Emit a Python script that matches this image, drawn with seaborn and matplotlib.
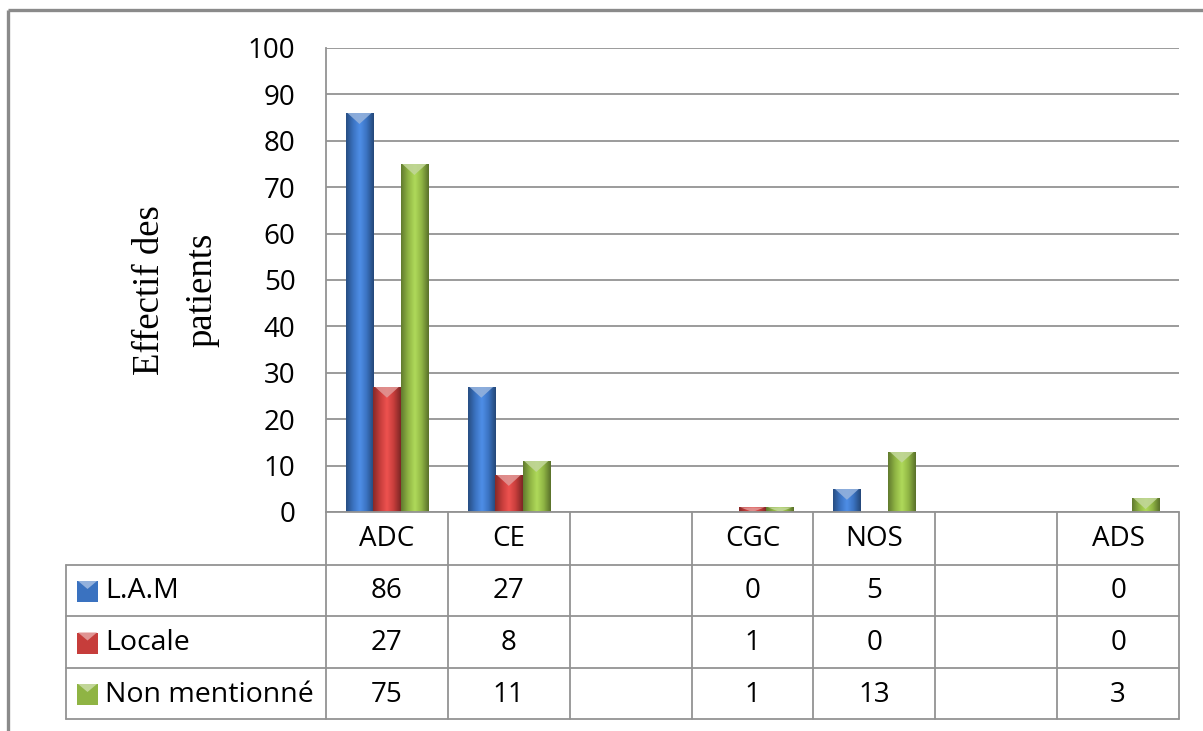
import numpy as np
import pandas as pd
import matplotlib
matplotlib.use("Agg")
import matplotlib.pyplot as plt
from matplotlib.colors import LinearSegmentedColormap, to_rgb
from matplotlib.patches import Rectangle, Polygon
import seaborn as sns

# ---- data -------------------------------------------------------------
categories = ["ADC", "CE", "", "CGC", "NOS", " ", "ADS"]
series = ["L.A.M", "Locale", "Non mentionné"]
lam = [86, 27, None, 0, 5, None, 0]
locale = [27, 8, None, 1, 0, None, 0]
non_mentionne = [75, 11, None, 1, 13, None, 3]
y_ticks = [0, 10, 20, 30, 40, 50, 60, 70, 80, 90, 100]
y_label = "Effectif des\npatients"

values = {"L.A.M": lam, "Locale": locale, "Non mentionné": non_mentionne}
colors = {"L.A.M": "#3a72c0", "Locale": "#c63d3b", "Non mentionné": "#8fb444"}

rows = []
for s in series:
    for c, v in zip(categories, values[s]):
        if v is not None:
            rows.append({"type": c, "serie": s, "n": v})
df = pd.DataFrame(rows)

# ---- figure -----------------------------------------------------------
W, H = 1203, 731
sns.set_theme(style="white")
plt.rcParams["font.family"] = ["Open Sans", "DejaVu Sans"]
fig = plt.figure(figsize=(W / 100, H / 100), dpi=100)
fig.patch.set_facecolor("white")

px = lambda x0, y0, x1, y1: [x0 / W, 1 - y1 / H, (x1 - x0) / W, (y1 - y0) / H]
ax = fig.add_axes(px(326, 48, 1179, 512))

sns.barplot(data=df, x="type", y="n", hue="serie", order=categories,
            hue_order=series, palette=colors, width=0.676, gap=0,
            saturation=1, ax=ax, legend=False, errorbar=None, zorder=3)

ax.set_xlim(-0.5, len(categories) - 0.5)
ax.set_ylim(0, 100)
ax.set_yticks(y_ticks)
ax.set_xticks([])
ax.set_xlabel("")
ax.set_ylabel("")
ax.tick_params(axis="y", length=0, pad=22, labelsize=20, labelcolor="black")
ax.yaxis.grid(True, color="#939393", lw=1.3, zorder=0)
ax.set_axisbelow(True)
for side in ["top", "right", "bottom"]:
    ax.spines[side].set_visible(False)
ax.spines["left"].set_color("#939393")
ax.spines["left"].set_linewidth(1.3)


def shade_cmap(hex_color):
    base = np.array(to_rgb(hex_color))
    dark = base * 0.68
    light = np.clip(base * 1.14 + 0.05, 0, 1)
    return LinearSegmentedColormap.from_list(
        "bar", [dark, base, light, base, dark * 0.92])


def light_tip(hex_color):
    base = np.array(to_rgb(hex_color))
    return tuple(np.clip(base + (1 - base) * 0.45, 0, 1))


grad = np.linspace(0, 1, 64).reshape(1, -1)
# y units per pixel in the main axes
y_per_px = 100 / (512 - 48)

bar_patches = [p for p in ax.patches if isinstance(p, Rectangle) and p.get_width() > 0]
for p in bar_patches:
    h = p.get_height()
    if h <= 0:
        continue
    x0, w = p.get_x(), p.get_width()
    fc = matplotlib.colors.to_hex(p.get_facecolor())
    im = ax.imshow(grad, extent=[x0, x0 + w, 0, h], aspect="auto",
                   cmap=shade_cmap(fc), zorder=4, interpolation="bicubic")
    im.set_clip_path(p)
    depth = min(11 * y_per_px, h)
    tri = Polygon([[x0 + w * 0.06, h], [x0 + w * 0.94, h], [x0 + w / 2, h - depth]],
                  closed=True, facecolor=light_tip(fc), edgecolor="none",
                  zorder=5, alpha=0.9)
    ax.add_patch(tri)
    tri.set_clip_path(p)
    p.set_edgecolor("none")

ax.set_xlim(-0.5, len(categories) - 0.5)
ax.set_ylim(0, 100)

# ---- overlay in pixel space: frame, axis title and data table ----------
ov = fig.add_axes([0, 0, 1, 1], zorder=5)
ov.set_xlim(0, W)
ov.set_ylim(H, 0)
ov.axis("off")
ov.patch.set_alpha(0)

frame_c = "#8a8a8a"
ov.plot([8, W], [10, 10], color=frame_c, lw=2.4, solid_capstyle="butt")
ov.plot([8, 8], [10, H], color=frame_c, lw=2.4, solid_capstyle="butt")

ov.text(176, 290, y_label, rotation=90, ha="center", va="center",
        family=["Liberation Serif", "DejaVu Serif"], fontsize=26.5,
        linespacing=1.65, color="black")

line_c = "#939393"
col_left, col_right = 326, 1179
label_left = 66
row_edges = [512, 565, 616, 668, 719]
ncol = len(categories)
col_w = (col_right - col_left) / ncol

# horizontal lines
ov.plot([col_left, col_right], [row_edges[0]] * 2, color=line_c, lw=1.3)
for yy in row_edges[1:]:
    ov.plot([label_left, col_right], [yy, yy], color=line_c, lw=1.3)
# vertical lines
for i in range(ncol + 1):
    xx = col_left + i * col_w
    ov.plot([xx, xx], [row_edges[0], row_edges[-1]], color=line_c, lw=1.3)
ov.plot([label_left, label_left], [row_edges[1], row_edges[-1]], color=line_c, lw=1.3)

fs = 20
for i, c in enumerate(categories):
    cx = col_left + (i + 0.5) * col_w
    ov.text(cx, (row_edges[0] + row_edges[1]) / 2 + 1, c, ha="center",
            va="center", fontsize=fs, color="black")
    for r, s in enumerate(series):
        v = values[s][i]
        if v is None:
            continue
        ov.text(cx, (row_edges[r + 1] + row_edges[r + 2]) / 2 + 1, str(v),
                ha="center", va="center", fontsize=fs, color="black")

for r, s in enumerate(series):
    cy = (row_edges[r + 1] + row_edges[r + 2]) / 2
    fc = colors[s]
    sq = 21
    sx0, sy0 = 77, cy - sq / 2 + 1
    rect = Rectangle((sx0, sy0), sq, sq, facecolor=fc, edgecolor="none")
    ov.add_patch(rect)
    im = ov.imshow(grad, extent=[sx0, sx0 + sq, sy0 + sq, sy0], aspect="auto",
                   cmap=shade_cmap(fc), interpolation="bicubic")
    im.set_clip_path(rect)
    tri = Polygon([[sx0 + 1, sy0], [sx0 + sq - 1, sy0], [sx0 + sq / 2, sy0 + 8]],
                  closed=True, facecolor=light_tip(fc), edgecolor="none")
    ov.add_patch(tri)
    ov.text(sx0 + sq + 7, cy + 1, s, ha="left", va="center", fontsize=20.5,
            color="black")

ov.set_xlim(0, W)
ov.set_ylim(H, 0)

fig.savefig("out.png", dpi=100, facecolor="white")
